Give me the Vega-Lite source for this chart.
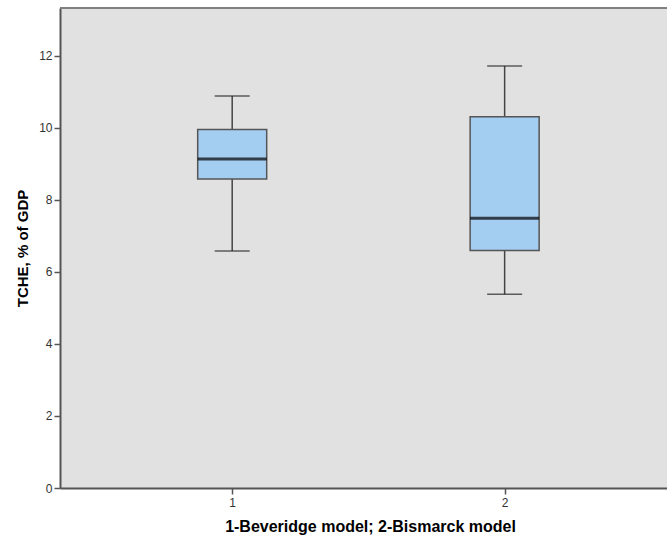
{
  "$schema": "https://vega.github.io/schema/vega-lite/v6.json",
  "autosize": "none",
  "width": 607,
  "height": 480,
  "padding": {"left": 60, "top": 8, "right": 0, "bottom": 50},
  "background": "white",
  "config": {
    "view": {"fill": "#e1e1e1", "stroke": null},
    "font": "Liberation Sans",
    "axis": {
      "grid": false,
      "domainColor": "#555555",
      "domainWidth": 2,
      "tickColor": "#555555",
      "tickWidth": 1.5,
      "labelColor": "#333333",
      "labelFont": "Liberation Sans",
      "labelFontSize": 12,
      "titleFont": "Liberation Sans",
      "titleFontSize": 15,
      "titleFontWeight": "bold",
      "titleColor": "#000000"
    }
  },
  "data": {
    "values": [
      {"group": 1, "lower": 6.58, "q1": 8.58, "median": 9.14, "q3": 9.96, "upper": 10.89},
      {"group": 2, "lower": 5.38, "q1": 6.60, "median": 7.49, "q3": 10.31, "upper": 11.72}
    ]
  },
  "layer": [
    {
      "mark": {"type": "rule", "color": "#444444", "strokeWidth": 1.5},
      "encoding": {
        "x": {
          "field": "group",
          "type": "quantitative",
          "scale": {"domain": [0.3863, 2.5776], "nice": false, "zero": false},
          "axis": {
            "orient": "bottom",
            "values": [1, 2],
            "format": "d",
            "tickSize": 6,
            "labelPadding": 3,
            "title": "1-Beveridge model; 2-Bismarck model",
            "titleFontSize": 16,
            "titleX": 310,
            "titlePadding": 10
          }
        },
        "y": {
          "field": "lower",
          "type": "quantitative",
          "scale": {"domain": [0, 13.333], "nice": false},
          "axis": {
            "values": [0, 2, 4, 6, 8, 10, 12],
            "tickSize": 6,
            "labelPadding": 2,
            "title": "TCHE, % of GDP",
            "titlePadding": 8
          }
        },
        "y2": {"field": "upper"}
      }
    },
    {
      "mark": {"type": "tick", "orient": "horizontal", "size": 35, "thickness": 1.5, "color": "#222222"},
      "encoding": {
        "x": {"field": "group", "type": "quantitative"},
        "y": {"field": "lower", "type": "quantitative"}
      }
    },
    {
      "mark": {"type": "tick", "orient": "horizontal", "size": 35, "thickness": 1.5, "color": "#222222"},
      "encoding": {
        "x": {"field": "group", "type": "quantitative"},
        "y": {"field": "upper", "type": "quantitative"}
      }
    },
    {
      "mark": {"type": "bar", "size": 69, "fill": "#a4cdf2", "stroke": "#555555", "strokeWidth": 1.5},
      "encoding": {
        "x": {"field": "group", "type": "quantitative"},
        "y": {"field": "q1", "type": "quantitative"},
        "y2": {"field": "q3"}
      }
    },
    {
      "mark": {"type": "tick", "orient": "horizontal", "size": 69, "thickness": 3, "color": "#000000"},
      "encoding": {
        "x": {"field": "group", "type": "quantitative"},
        "y": {"field": "median", "type": "quantitative"}
      }
    },
    {
      "mark": {"type": "rule", "color": "#808080", "strokeWidth": 2},
      "encoding": {
        "y": {"datum": 13.333, "type": "quantitative"}
      }
    }
  ]
}
